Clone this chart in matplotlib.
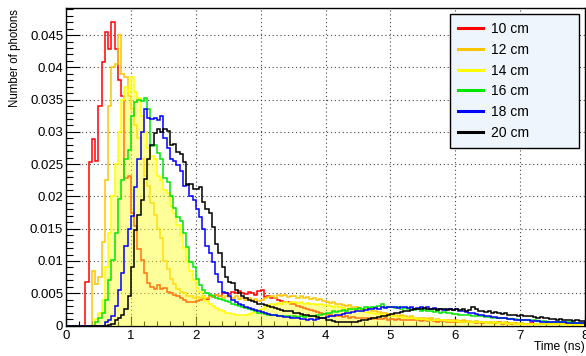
"""
plot.py
Photon arrival time distributions for several source distances (ROOT-style histogram plot).
"""

import numpy as np
import matplotlib
matplotlib.use("Agg")
import matplotlib.pyplot as plt
from matplotlib.lines import Line2D
from matplotlib.ticker import MultipleLocator, FuncFormatter

plt.rcParams["font.family"] = ["Liberation Sans", "DejaVu Sans"]

# 0.05 ns bins from 0 to 8 ns; counts below are in units of 1e-4
BIN_WIDTH = 0.05
N_BINS = 160
LABELS = ["10 cm", "12 cm", "14 cm", "16 cm", "18 cm", "20 cm"]

h10 = [
    0, 0, 0, 0, 0, 0, 68, 253, 289, 255,
    340, 408, 455, 428, 470, 429, 380, 356, 228, 232,
    175, 154, 118, 102, 82, 66, 60, 57, 62, 56,
    58, 52, 50, 47, 45, 43, 40, 36, 37, 36,
    38, 40, 42, 41, 45, 44, 48, 46, 50, 51,
    49, 52, 50, 53, 51, 49, 52, 50, 47, 53,
    55, 44, 45, 42, 43, 40, 38, 37, 36, 33,
    34, 30, 29, 27, 25, 24, 22, 21, 19, 18,
    17, 16, 15, 15, 14, 13, 14, 12, 13, 12,
    12, 11, 12, 11, 10, 11, 10, 10, 11, 9,
    10, 9, 10, 9, 8, 9, 8, 8, 9, 7,
    8, 7, 8, 7, 6, 7, 7, 6, 6, 5,
    6, 6, 5, 5, 6, 5, 4, 5, 4, 5,
    4, 4, 4, 5, 3, 4, 4, 3, 4, 3,
    3, 3, 3, 4, 3, 2, 3, 3, 2, 3,
    2, 2, 3, 2, 2, 2, 3, 2, 2, 2,
]
h12 = [
    0, 0, 0, 0, 0, 0, 0, 0, 85, 65,
    75, 130, 225, 340, 400, 405, 450, 390, 385, 355,
    335, 310, 290, 258, 232, 216, 190, 172, 150, 135,
    100, 88, 72, 64, 57, 52, 50, 46, 45, 43,
    44, 42, 45, 43, 46, 44, 47, 45, 43, 46,
    44, 42, 45, 41, 43, 40, 42, 39, 41, 38,
    40, 42, 44, 46, 43, 47, 45, 48, 44, 46,
    45, 43, 46, 42, 44, 41, 43, 40, 41, 38,
    37, 35, 36, 33, 34, 31, 30, 31, 28, 29,
    27, 26, 25, 24, 22, 23, 21, 20, 19, 18,
    17, 16, 15, 16, 14, 13, 14, 12, 12, 11,
    11, 10, 11, 9, 10, 9, 9, 8, 9, 8,
    8, 7, 8, 7, 7, 6, 7, 6, 6, 5,
    6, 5, 5, 5, 4, 5, 4, 4, 4, 3,
    4, 3, 3, 3, 3, 2, 3, 2, 3, 2,
    2, 2, 2, 2, 1, 2, 2, 1, 2, 1,
]
h14 = [
    0, 0, 0, 0, 0, 0, 0, 0, 0, 10,
    20, 40, 90, 144, 200, 250, 300, 350, 370, 362,
    385, 362, 352, 325, 300, 275, 262, 258, 232, 225,
    210, 205, 185, 175, 155, 140, 120, 100, 85, 70,
    58, 52, 44, 38, 33, 30, 27, 24, 22, 20,
    19, 18, 17, 16, 16, 17, 18, 20, 22, 24,
    26, 29, 31, 33, 32, 35, 34, 36, 35, 37,
    36, 35, 37, 34, 35, 33, 34, 32, 33, 31,
    32, 30, 29, 30, 28, 27, 26, 27, 25, 24,
    23, 22, 21, 20, 19, 18, 18, 17, 16, 15,
    15, 14, 13, 13, 12, 12, 11, 11, 10, 10,
    10, 9, 9, 9, 8, 8, 8, 7, 7, 7,
    7, 6, 6, 6, 6, 5, 5, 5, 5, 5,
    4, 4, 5, 4, 4, 4, 3, 4, 3, 3,
    3, 3, 3, 3, 2, 3, 2, 3, 2, 2,
    2, 2, 2, 2, 2, 1, 2, 2, 1, 1,
]
h16 = [
    0, 0, 0, 0, 0, 0, 0, 0, 0, 5,
    12, 20, 40, 70, 102, 143, 196, 225, 258, 272,
    325, 346, 350, 348, 352, 335, 278, 280, 268, 258,
    228, 222, 200, 182, 168, 162, 143, 122, 98, 90,
    72, 62, 55, 50, 48, 45, 43, 41, 40, 38,
    36, 34, 32, 30, 28, 27, 25, 24, 22, 20,
    19, 18, 17, 16, 16, 15, 14, 15, 14, 13,
    14, 13, 14, 13, 14, 15, 14, 16, 17, 18,
    19, 20, 22, 21, 23, 24, 23, 25, 26, 25,
    27, 26, 28, 27, 29, 28, 30, 34, 29, 28,
    28, 27, 29, 26, 27, 25, 26, 24, 25, 23,
    24, 22, 23, 21, 22, 20, 21, 19, 20, 18,
    18, 17, 17, 16, 16, 15, 15, 14, 14, 13,
    13, 12, 12, 12, 11, 11, 10, 10, 10, 9,
    9, 9, 8, 8, 8, 7, 7, 7, 6, 6,
    6, 6, 5, 5, 5, 5, 4, 4, 4, 4,
]
h18 = [
    0, 0, 0, 0, 0, 0, 0, 0, 0, 0,
    0, 0, 5, 8, 14, 30, 55, 82, 123, 150,
    170, 215, 258, 300, 335, 322, 320, 322, 318, 325,
    290, 275, 258, 255, 248, 240, 216, 220, 200, 195,
    180, 168, 150, 123, 113, 98, 80, 67, 52, 50,
    46, 40, 37, 34, 31, 29, 27, 25, 24, 22,
    21, 19, 18, 17, 16, 15, 14, 13, 13, 12,
    11, 11, 10, 10, 9, 10, 9, 10, 11, 12,
    13, 14, 15, 16, 17, 18, 19, 20, 21, 22,
    22, 23, 24, 25, 26, 27, 26, 28, 27, 28,
    29, 28, 27, 29, 28, 27, 28, 26, 27, 28,
    27, 28, 26, 27, 25, 26, 24, 25, 26, 24,
    25, 23, 22, 21, 20, 19, 18, 17, 16, 15,
    14, 13, 13, 12, 11, 11, 10, 10, 9, 9,
    8, 8, 8, 7, 7, 7, 6, 6, 6, 5,
    5, 5, 5, 5, 4, 4, 4, 4, 4, 4,
]
h20 = [
    0, 0, 0, 0, 0, 0, 0, 0, 0, 0,
    0, 0, 0, 1, 3, 8, 12, 17, 26, 46,
    90, 148, 172, 195, 227, 258, 280, 299, 304, 300,
    305, 302, 280, 282, 269, 265, 253, 217, 220, 212,
    212, 214, 191, 180, 175, 152, 127, 112, 90, 75,
    67, 66, 55, 50, 46, 42, 40, 38, 36, 34,
    33, 31, 30, 28, 27, 26, 24, 23, 22, 22,
    20, 19, 18, 17, 16, 15, 14, 13, 12, 11,
    9, 8, 7, 6, 6, 5, 5, 6, 5, 6,
    7, 8, 9, 10, 11, 12, 13, 14, 15, 16,
    18, 19, 20, 21, 22, 23, 24, 25, 26, 25,
    27, 26, 25, 26, 24, 25, 26, 24, 25, 24,
    25, 24, 26, 23, 24, 29, 25, 23, 22, 21,
    22, 20, 21, 19, 18, 19, 17, 16, 17, 15,
    16, 15, 14, 15, 13, 12, 13, 11, 12, 10,
    10, 9, 10, 8, 9, 8, 7, 8, 7, 7,
]

COLORS = ["#ff0000", "#ffc400", "#ffff00", "#00e600", "#0000ff", "#000000"]


def main():
    edges = np.arange(N_BINS + 1) * BIN_WIDTH
    hists = [np.array(h) * 1e-4 for h in (h10, h12, h14, h16, h18, h20)]

    fig = plt.figure(figsize=(5.86, 3.56), dpi=100)
    ax = fig.add_axes([66 / 586, 1 - 325.5 / 356, 519 / 586, 317.5 / 356])

    for i, (vals, col) in enumerate(zip(hists, COLORS)):
        if i == 2:
            # 14 cm is drawn with a pale yellow fill
            ax.stairs(vals, edges, fill=True, facecolor="#ffff20", alpha=0.45,
                      edgecolor="none", zorder=2 + i)
        ax.stairs(vals, edges, color=col, lw=1.1, zorder=2 + i)

    ax.set_xlim(0, 8)
    ax.set_ylim(0, 0.0492)

    ax.xaxis.set_major_locator(MultipleLocator(1))
    ax.xaxis.set_minor_locator(MultipleLocator(0.2))
    ax.yaxis.set_major_locator(MultipleLocator(0.005))
    ax.yaxis.set_minor_locator(MultipleLocator(0.001))
    ax.yaxis.set_major_formatter(FuncFormatter(lambda v, p: "%g" % round(v, 4)))

    ax.tick_params(axis="both", which="both", direction="in", labelsize=9.5,
                   top=False, right=False, width=0.8, color="black")
    ax.tick_params(axis="y", which="major", length=10, pad=2)
    ax.tick_params(axis="y", which="minor", length=5)
    ax.tick_params(axis="x", which="major", length=7, pad=3)
    ax.tick_params(axis="x", which="minor", length=3.5)

    ax.grid(True, which="major", color="#444444", lw=0.8, linestyle=(0, (1, 2.5)))
    ax.set_axisbelow(True)
    for sp in ax.spines.values():
        sp.set_linewidth(1.0)
        sp.set_color("black")

    fig.text(15 / 586, 1 - 9 / 356, "Number of photons", rotation=90,
             ha="center", va="top", fontsize=8.3)
    fig.text(585 / 586, 1 - 347 / 356, "Time (ns)", ha="right", va="center",
             fontsize=8.7)

    handles = [Line2D([], [], color=c, lw=2.2) for c in COLORS]
    leg = ax.legend(handles, LABELS, loc="upper left",
                    bbox_to_anchor=(450 / 586, 1 - 147 / 356, 129 / 586, 133 / 356),
                    bbox_transform=fig.transFigure, mode="expand",
                    fontsize=10, frameon=True, fancybox=False, framealpha=1,
                    borderaxespad=0, borderpad=0.6, labelspacing=0.48,
                    handlelength=1.75, handletextpad=0.6)
    leg.get_frame().set_facecolor("#eef5fd")
    leg.get_frame().set_edgecolor("black")
    leg.get_frame().set_linewidth(1.0)
    leg.set_zorder(20)

    fig.savefig("out.png", dpi=100)


if __name__ == "__main__":
    main()
